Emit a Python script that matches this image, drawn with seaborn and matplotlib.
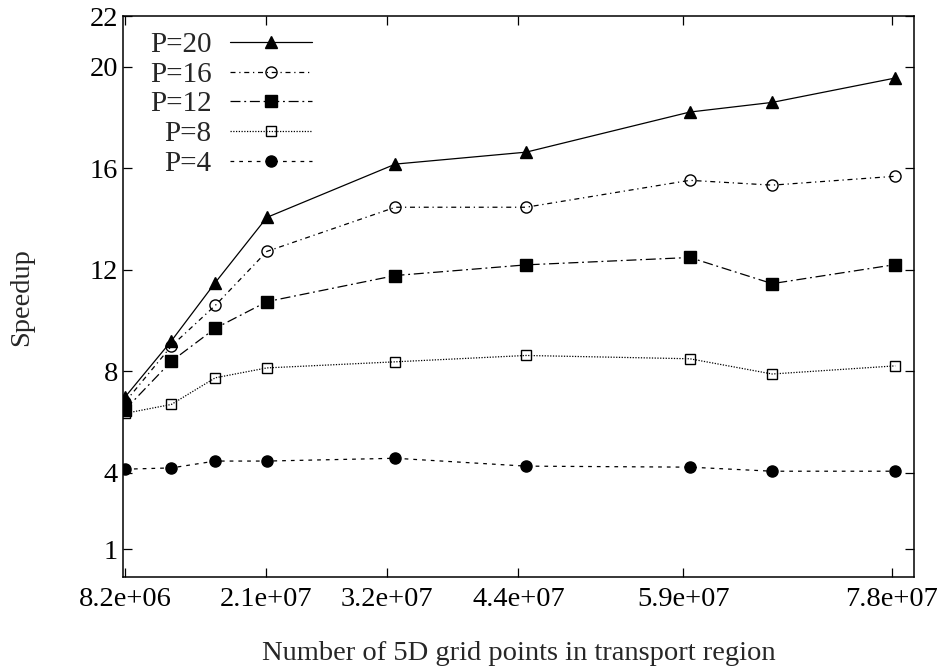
import numpy as np
import pandas as pd
import matplotlib
matplotlib.use("Agg")
import matplotlib.pyplot as plt
import seaborn as sns

# grid size (number of 5D grid points) and measured speedups
grid_points = [8.2e6, 1.24e7, 1.64e7, 2.11e7, 3.28e7, 4.47e7, 5.96e7, 6.71e7, 7.83e7]
speedup_p20 = [7.0, 9.2, 11.5, 14.07, 16.17, 16.64, 18.22, 18.6, 19.56]
speedup_p16 = [6.8, 9.0, 10.6, 12.73, 14.47, 14.47, 15.53, 15.34, 15.69]
speedup_p12 = [6.5, 8.4, 9.7, 10.75, 11.78, 12.2, 12.49, 11.46, 12.21]
speedup_p8 = [6.35, 6.7, 7.75, 8.14, 8.38, 8.63, 8.5, 7.9, 8.22]
speedup_p4 = [4.15, 4.2, 4.47, 4.47, 4.58, 4.27, 4.23, 4.07, 4.07]

x_ticks = [8.2e6, 2.1e7, 3.2e7, 4.4e7, 5.9e7, 7.8e7]
x_tick_labels = ['8.2e+06', '2.1e+07', '3.2e+07', '4.4e+07', '5.9e+07', '7.8e+07']
y_ticks = [1, 4, 8, 12, 16, 20, 22]

sns.set_style("ticks")
plt.rcParams['font.family'] = ['Liberation Serif', 'DejaVu Serif']

series = [
    ('P=20', speedup_p20, '^', 'black', '-'),
    ('P=16', speedup_p16, 'o', 'none', (0, (4, 3, 1, 3))),
    ('P=12', speedup_p12, 's', 'black', (0, (8, 3, 1.5, 3))),
    ('P=8', speedup_p8, 's', 'none', (0, (1, 1.2))),
    ('P=4', speedup_p4, 'o', 'black', (0, (3, 4))),
]

fs = 20.5

fig, ax = plt.subplots(figsize=(9.49, 6.71), dpi=100)
fig.subplots_adjust(left=0.1296, right=0.963, top=0.976, bottom=0.14)

for label, vals, mk, fc, ls in series:
    df = pd.DataFrame({'x': grid_points, 'y': vals})
    ms = 8.6 if mk == '^' else 8
    if mk == 's' and fc == 'none':
        ms = 7.5
    sns.lineplot(data=df, x='x', y='y', ax=ax, color='black', linewidth=0.9,
                 linestyle=ls, marker=mk, markersize=ms, markerfacecolor=fc,
                 markeredgecolor='black', markeredgewidth=1.0, label=label,
                 sort=False, errorbar=None, legend=False)

ax.set_xlim(8e6, 8e7)
ax.set_ylim(-0.1, 22)
ax.set_xticks(x_ticks)
ax.set_xticklabels(x_tick_labels)
ax.set_yticks(y_ticks)
ax.tick_params(direction='in', length=6.5, width=0.9, top=True, right=True,
               labelsize=fs, colors='black')
ax.tick_params(axis='y', pad=3.5)
ax.tick_params(axis='x', pad=7)
for sp in ax.spines.values():
    sp.set_visible(True)
    sp.set_linewidth(1.1)
    sp.set_color('black')

ax.set_xlabel('Number of 5D grid points in transport region', fontsize=fs, labelpad=21)
ax.set_ylabel('Speedup', fontsize=fs, labelpad=40)

handles, labels = ax.get_legend_handles_labels()
ax.legend(handles, labels, loc='upper left', bbox_to_anchor=(0.034, 0.972),
          frameon=False, markerfirst=False, numpoints=1, fontsize=21,
          handlelength=2.8, handletextpad=0.65, labelspacing=0.11, borderpad=0,
          borderaxespad=0)

fig.savefig('out.png', dpi=100)
